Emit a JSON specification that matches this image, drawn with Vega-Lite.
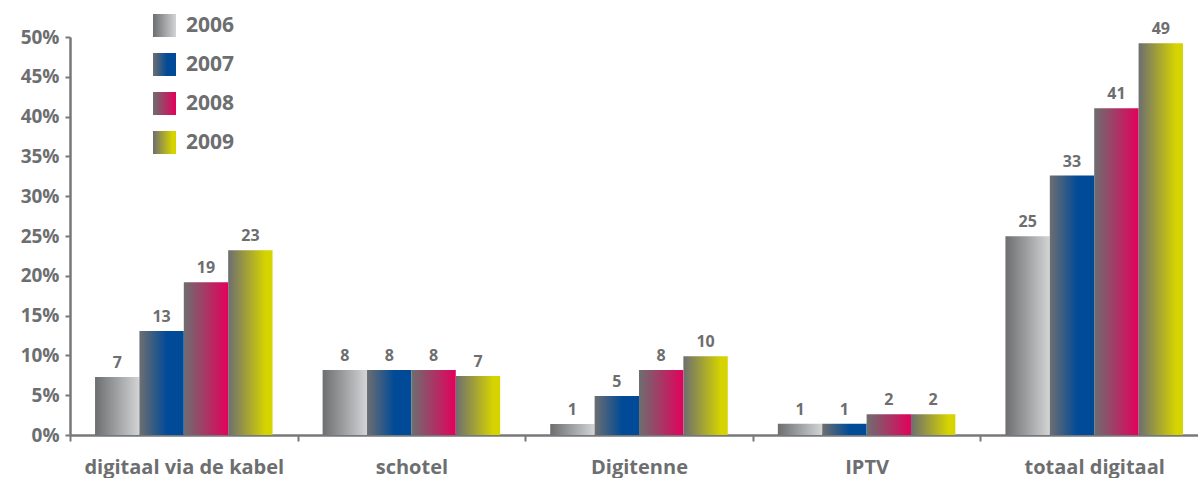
{
  "$schema": "https://vega.github.io/schema/vega-lite/v6.json",
  "width": 1138,
  "height": 398,
  "autosize": "none",
  "padding": {"left": 70, "top": 37, "right": 0, "bottom": 43},
  "background": "white",
  "config": {
    "view": {"stroke": null},
    "font": "Open Sans",
    "legend": {
      "orient": "none",
      "legendX": 83,
      "legendY": -23,
      "symbolType": "square",
      "symbolSize": 529,
      "symbolStrokeWidth": 0,
      "symbolOpacity": 1,
      "labelFontSize": 21,
      "labelFontWeight": "bold",
      "labelColor": "#6d6e70",
      "labelOffset": 10,
      "rowPadding": 16
    }
  },
  "data": {
    "values": [
      {"category": "digitaal via de kabel", "year": "2006", "value": 7.28, "label": "7"},
      {"category": "digitaal via de kabel", "year": "2007", "value": 13.06, "label": "13"},
      {"category": "digitaal via de kabel", "year": "2008", "value": 19.2, "label": "19"},
      {"category": "digitaal via de kabel", "year": "2009", "value": 23.2, "label": "23"},
      {"category": "schotel", "year": "2006", "value": 8.16, "label": "8"},
      {"category": "schotel", "year": "2007", "value": 8.16, "label": "8"},
      {"category": "schotel", "year": "2008", "value": 8.16, "label": "8"},
      {"category": "schotel", "year": "2009", "value": 7.4, "label": "7"},
      {"category": "Digitenne", "year": "2006", "value": 1.38, "label": "1"},
      {"category": "Digitenne", "year": "2007", "value": 4.9, "label": "5"},
      {"category": "Digitenne", "year": "2008", "value": 8.16, "label": "8"},
      {"category": "Digitenne", "year": "2009", "value": 9.9, "label": "10"},
      {"category": "IPTV", "year": "2006", "value": 1.42, "label": "1"},
      {"category": "IPTV", "year": "2007", "value": 1.42, "label": "1"},
      {"category": "IPTV", "year": "2008", "value": 2.6, "label": "2"},
      {"category": "IPTV", "year": "2009", "value": 2.6, "label": "2"},
      {"category": "totaal digitaal", "year": "2006", "value": 24.98, "label": "25"},
      {"category": "totaal digitaal", "year": "2007", "value": 32.6, "label": "33"},
      {"category": "totaal digitaal", "year": "2008", "value": 41.05, "label": "41"},
      {"category": "totaal digitaal", "year": "2009", "value": 49.2, "label": "49"}
    ]
  },
  "encoding": {
    "x": {
      "field": "category",
      "type": "nominal",
      "sort": ["digitaal via de kabel", "schotel", "Digitenne", "IPTV", "totaal digitaal"],
      "scale": {"paddingInner": 0.22, "paddingOuter": 0.11},
      "axis": {
        "title": null,
        "labelAngle": 0,
        "labelLimit": 400,
        "bandPosition": 0.5,
        "tickOffset": -113.8,
        "labelOffset": 113.8,
        "domainColor": "#77787b",
        "domainWidth": 2.5,
        "tickColor": "#77787b",
        "tickWidth": 2,
        "tickSize": 6,
        "labelFontSize": 20,
        "labelFontWeight": "bold",
        "labelColor": "#6d6e70",
        "labelPadding": 16,
        "grid": false
      }
    },
    "xOffset": {"field": "year", "type": "nominal"},
    "y": {
      "field": "value",
      "type": "quantitative",
      "scale": {"domain": [0, 50]},
      "axis": {
        "title": null,
        "values": [0, 5, 10, 15, 20, 25, 30, 35, 40, 45, 50],
        "labelExpr": "datum.value + '%'",
        "domainColor": "#77787b",
        "domainWidth": 2.5,
        "tickColor": "#77787b",
        "tickWidth": 2,
        "tickSize": 5,
        "labelFontSize": 19,
        "labelFontWeight": "bold",
        "labelColor": "#6d6e70",
        "labelPadding": 6,
        "grid": false
      }
    }
  },
  "layer": [
    {
      "mark": {"type": "bar"},
      "encoding": {
        "color": {
          "field": "year",
          "type": "nominal",
          "title": null,
          "scale": {
            "domain": ["2006", "2007", "2008", "2009"],
            "range": [
              {"expr": "{gradient: 'linear', x1: 0, y1: 0, x2: 1, y2: 0, stops: [{offset: 0, color: '#6d6e70'}, {offset: 1, color: '#d3d4d6'}]}"},
              {"expr": "{gradient: 'linear', x1: 0, y1: 0, x2: 1, y2: 0, stops: [{offset: 0, color: '#6d6e70'}, {offset: 0.62, color: '#004a98'}, {offset: 1, color: '#004a98'}]}"},
              {"expr": "{gradient: 'linear', x1: 0, y1: 0, x2: 1, y2: 0, stops: [{offset: 0, color: '#6d6e70'}, {offset: 1, color: '#e3005b'}]}"},
              {"expr": "{gradient: 'linear', x1: 0, y1: 0, x2: 1, y2: 0, stops: [{offset: 0, color: '#6d6e70'}, {offset: 0.85, color: '#d6d400'}, {offset: 1, color: '#d6d400'}]}"}
            ]
          }
        }
      }
    },
    {
      "mark": {"type": "text", "baseline": "bottom", "dy": -6, "fontWeight": "bold", "fontSize": 16, "color": "#6d6e70"},
      "encoding": {"text": {"field": "label"}}
    }
  ]
}
